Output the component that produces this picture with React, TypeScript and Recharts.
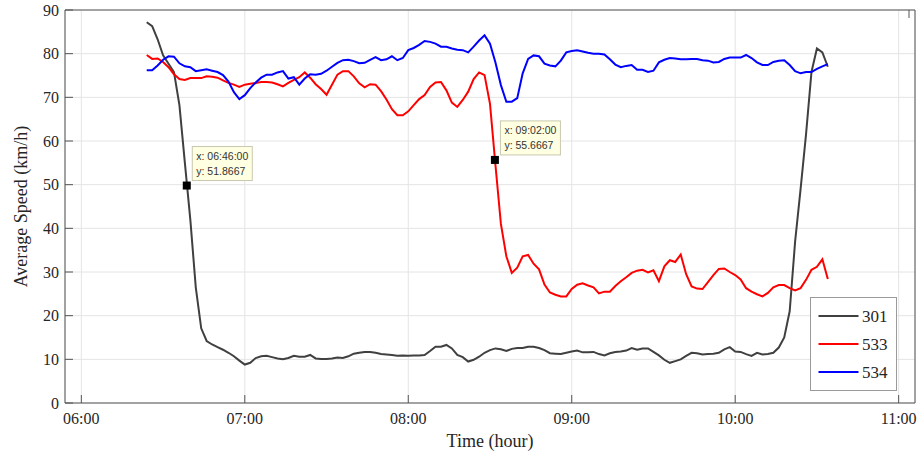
import React from 'react';
import { LineChart, Line, XAxis, YAxis, CartesianGrid, Legend, ReferenceDot } from 'recharts';

// minutes after midnight (06:24 .. 10:34)
const minutes = [
  384, 386, 388, 390, 392, 394, 396, 398, 400, 402, 404, 406, 408, 410, 412, 414, 416, 418, 420, 422,
  424, 426, 428, 430, 432, 434, 436, 438, 440, 442, 444, 446, 448, 450, 452, 454, 456, 458, 460, 462,
  464, 466, 468, 470, 472, 474, 476, 478, 480, 482, 484, 486, 488, 490, 492, 494, 496, 498, 500, 502,
  504, 506, 508, 510, 512, 514, 516, 518, 520, 522, 524, 526, 528, 530, 532, 534, 536, 538, 540, 542,
  544, 546, 548, 550, 552, 554, 556, 558, 560, 562, 564, 566, 568, 570, 572, 574, 576, 578, 580, 582,
  584, 586, 588, 590, 592, 594, 596, 598, 600, 602, 604, 606, 608, 610, 612, 614, 616, 618, 620, 622,
  624, 626, 628, 630, 632, 634,
];

const speed301 = [
  87.2, 86.3, 83.3, 79.6, 77.7, 75.8, 68.2, 55.0, 42.0, 26.5,
  17.1, 14.2, 13.4, 12.8, 12.2, 11.5, 10.7, 9.7, 8.8, 9.2,
  10.3, 10.7, 10.8, 10.5, 10.2, 10.0, 10.3, 10.8, 10.6, 10.6,
  11.0, 10.2, 10.1, 10.1, 10.2, 10.4, 10.3, 10.7, 11.3, 11.5,
  11.7, 11.7, 11.5, 11.2, 11.1, 11.0, 10.8, 10.9, 10.8, 10.9,
  10.9, 11.0, 11.9, 12.9, 12.9, 13.3, 12.5, 11.0, 10.5, 9.5,
  9.9, 10.6, 11.5, 12.1, 12.5, 12.3, 11.9, 12.4, 12.6, 12.6,
  12.9, 12.9, 12.6, 12.1, 11.4, 11.3, 11.2, 11.5, 11.8, 12.0,
  11.6, 11.6, 11.7, 11.2, 10.9, 11.4, 11.7, 11.8, 12.0, 12.6,
  12.2, 12.5, 12.5, 11.7, 10.9, 9.9, 9.2, 9.6, 10.0, 10.8,
  11.5, 11.4, 11.1, 11.2, 11.3, 11.5, 12.3, 12.8, 11.8, 11.7,
  11.2, 10.8, 11.5, 11.1, 11.2, 11.5, 12.7, 15.0, 21.0, 37.0,
  49.0, 61.5, 75.8, 81.2, 80.3, 77.0,
];

const speed533 = [
  79.7, 78.8, 78.9, 78.1, 76.9, 75.3, 74.2, 74.0, 74.4, 74.4,
  74.4, 74.8, 74.7, 74.5, 73.9, 73.3, 72.9, 72.4, 72.9, 73.1,
  73.3, 73.5, 73.5, 73.4, 73.0, 72.5, 73.3, 74.0, 74.6, 75.7,
  74.5, 73.0, 71.9, 70.6, 72.9, 75.2, 76.0, 76.0, 74.8, 73.2,
  72.3, 73.0, 72.9, 71.4, 69.5, 67.3, 65.9, 65.9, 66.8, 68.2,
  69.6, 70.5, 72.4, 73.4, 73.5, 71.6, 68.8, 67.8, 69.4, 71.3,
  74.2, 75.7, 75.1, 68.5, 54.5, 41.0, 33.6, 29.8, 31.0, 33.6,
  33.9, 31.9, 30.6, 27.1, 25.3, 24.8, 24.4, 24.4, 26.1, 27.1,
  27.4, 26.9, 26.5, 25.1, 25.5, 25.5, 26.8, 27.9, 28.8, 29.8,
  30.3, 30.5, 29.9, 30.4, 27.9, 31.3, 32.7, 32.3, 34.0, 29.5,
  26.7, 26.2, 26.1, 27.7, 29.3, 30.7, 30.8, 30.0, 29.3, 28.3,
  26.3, 25.5, 24.9, 24.4, 25.2, 26.5, 27.0, 27.0, 26.3, 25.8,
  26.3, 28.2, 30.5, 31.2, 32.9, 28.4,
];

const speed534 = [
  76.2, 76.2, 77.3, 78.6, 79.4, 79.3, 77.8, 77.1, 76.9, 76.0,
  76.2, 76.4, 76.1, 75.8, 75.1, 73.6, 71.2, 69.6, 70.5, 72.1,
  73.4, 74.5, 75.2, 75.2, 75.7, 76.0, 74.3, 74.6, 72.9, 74.3,
  75.3, 75.2, 75.4, 76.1, 77.0, 77.9, 78.5, 78.6, 78.3, 77.8,
  77.9, 78.6, 79.2, 78.5, 78.7, 79.4, 78.5, 79.0, 80.8, 81.3,
  82.0, 82.9, 82.7, 82.3, 81.6, 81.6, 81.2, 80.9, 80.8, 80.3,
  81.6, 83.0, 84.2, 82.3, 78.0, 72.8, 69.0, 69.0, 69.8, 75.5,
  78.8, 79.6, 79.4, 77.7, 77.3, 77.1, 78.4, 80.3, 80.6, 80.8,
  80.5, 80.2, 80.0, 80.0, 79.8, 78.7, 77.5, 76.9, 77.2, 77.4,
  76.3, 76.3, 75.8, 76.1, 78.0, 78.6, 79.0, 78.9, 78.7, 78.7,
  78.8, 78.8, 78.5, 78.4, 78.0, 78.1, 78.8, 79.1, 79.1, 79.1,
  79.7, 79.0, 78.0, 77.4, 77.4, 78.1, 78.4, 78.5, 77.4, 76.0,
  75.5, 75.8, 75.8, 76.5, 77.1, 77.6,
];

const series = [
  { key: 's301', name: '301', color: '#404040' },
  { key: 's533', name: '533', color: '#ff0000' },
  { key: 's534', name: '534', color: '#0000ff' },
];

const xTicks = [360, 420, 480, 540, 600, 660];
const yTicks = [0, 10, 20, 30, 40, 50, 60, 70, 80, 90];

// data tips: marker position (minutes, km/h) and their text
const tips = [
  { t: 398.7, v: 49.8, lines: ['x: 06:46:00', 'y: 51.8667'] },
  { t: 511.8, v: 55.6667, lines: ['x: 09:02:00', 'y: 55.6667'] },
];

const data = minutes.map((t, i) => ({
  t,
  s301: speed301[i],
  s533: speed533[i],
  s534: speed534[i],
}));

const serif = '"Liberation Serif", "Times New Roman", serif';
const sans = '"Liberation Sans", Arial, sans-serif';
const axisColor = '#555';
const textColor = '#262626';
const TICK = 8;
// recharts treats tickSize 0 as "use default", so keep it just above zero
const NO_TICK = 0.001;
const X_GAP = 10;
const Y_GAP = 6;

const hhmm = (m: number) =>
  `${String(Math.floor(m / 60)).padStart(2, '0')}:${String(m % 60).padStart(2, '0')}`;

// inward ticks (matlab style), drawn from the label anchor back to the axis line
const BottomTick = ({ x, y, payload }: any) => {
  const axisY = y - X_GAP;
  return (
    <g>
      <line x1={x} x2={x} y1={axisY} y2={axisY - TICK} stroke={axisColor} />
      <text x={x} y={y} dy="0.71em" textAnchor="middle" fontSize={16} fontFamily={serif} fill={textColor}>
        {hhmm(payload.value)}
      </text>
    </g>
  );
};

const TopTick = ({ x, y }: any) => (
  <line x1={x} x2={x} y1={y} y2={y + TICK} stroke={axisColor} />
);

const LeftTick = ({ x, y, payload }: any) => {
  const axisX = x + Y_GAP;
  return (
    <g>
      <line x1={axisX} x2={axisX + TICK} y1={y} y2={y} stroke={axisColor} />
      <text x={x} y={y} dy="0.355em" textAnchor="end" fontSize={16} fontFamily={serif} fill={textColor}>
        {payload.value}
      </text>
    </g>
  );
};

const RightTick = ({ x, y }: any) => (
  <line x1={x} x2={x - TICK} y1={y} y2={y} stroke={axisColor} />
);

const TipShape = ({ cx, cy, lines }: any) => (
  <g>
    <rect x={cx + 5.5} y={cy - 39} width={60} height={34} fill="#ffffe1" stroke="#c8c8b0" />
    <text x={cx + 9.5} y={cy - 25.5} fontSize={10.5} fontFamily={sans} fill="#333">
      {lines[0]}
    </text>
    <text x={cx + 9.5} y={cy - 10.5} fontSize={10.5} fontFamily={sans} fill="#333">
      {lines[1]}
    </text>
    <rect x={cx - 4} y={cy - 4} width={8} height={8} fill="#000" />
  </g>
);

const LegendBox = () => (
  <svg width={88} height={95} style={{ display: 'block' }}>
    <rect x={0.5} y={0.5} width={86} height={93} fill="#fff" stroke="#9a9a9a" />
    {series.map((s, i) => (
      <g key={s.key}>
        <line x1={8.5} x2={48.5} y1={19 + i * 28} y2={19 + i * 28} stroke={s.color} strokeWidth={2} />
        <text x={52} y={25 + i * 28} fontSize={17} fontFamily={serif} fill={textColor}>
          {s.name}
        </text>
      </g>
    ))}
  </svg>
);

const App = () => {
  return (
    <div style={{ position: 'absolute', left: 0, top: 0, background: '#fff' }}>
      <LineChart width={921} height={459} data={data} margin={{ top: 9, right: 0, bottom: 0, left: 0 }}>
        <CartesianGrid stroke="#e4e4e4" />
        <XAxis
          dataKey="t"
          type="number"
          domain={[354, 666]}
          ticks={xTicks}
          allowDataOverflow
          height={56}
          tickLine={false}
          tickSize={NO_TICK}
          tickMargin={X_GAP}
          stroke={axisColor}
          tick={<BottomTick />}
          label={{ value: 'Time (hour)', position: 'center', dy: 10, fill: textColor, fontSize: 18, fontFamily: serif }}
        />
        <XAxis
          xAxisId="top"
          orientation="top"
          type="number"
          domain={[354, 666]}
          ticks={xTicks}
          allowDataOverflow
          height={1}
          tickLine={false}
          tickSize={NO_TICK}
          tickMargin={0}
          stroke={axisColor}
          tick={<TopTick />}
        />
        <YAxis
          type="number"
          domain={[0, 90]}
          ticks={yTicks}
          width={65}
          tickLine={false}
          tickSize={NO_TICK}
          tickMargin={Y_GAP}
          stroke={axisColor}
          tick={<LeftTick />}
          label={{
            value: 'Average Speed (km/h)',
            angle: -90,
            position: 'center',
            dx: -12,
            fill: textColor,
            fontSize: 18,
            fontFamily: serif,
          }}
        />
        <YAxis
          yAxisId="right"
          orientation="right"
          type="number"
          domain={[0, 90]}
          ticks={yTicks}
          width={6}
          tickLine={false}
          tickSize={NO_TICK}
          tickMargin={0}
          stroke={axisColor}
          tick={<RightTick />}
        />
        {series.map((s) => (
          <Line
            key={s.key}
            type="linear"
            dataKey={s.key}
            name={s.name}
            stroke={s.color}
            strokeWidth={2}
            dot={false}
            isAnimationActive={false}
          />
        ))}
        {tips.map((tip) => (
          <ReferenceDot
            key={tip.lines[0]}
            x={tip.t}
            y={tip.v}
            shape={(p: any) => <TipShape {...p} lines={tip.lines} />}
          />
        ))}
        <Legend
          layout="vertical"
          align="center"
          verticalAlign="middle"
          content={() => <LegendBox />}
          wrapperStyle={{ position: 'absolute', left: 810, top: 297, width: 88, height: 95 }}
        />
      </LineChart>
    </div>
  );
};

export default App;
